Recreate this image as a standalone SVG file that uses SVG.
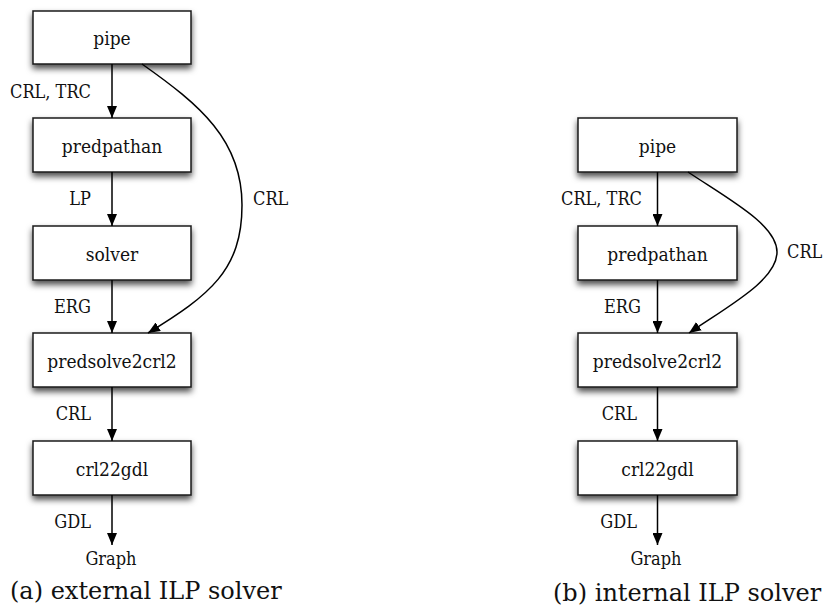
<svg xmlns="http://www.w3.org/2000/svg" width="829" height="614" viewBox="0 0 829 614">
  <defs>
    <filter id="shadow" x="-10%" y="-20%" width="120%" height="160%">
      <feDropShadow dx="0" dy="4" stdDeviation="3" flood-color="#000" flood-opacity="0.7"/>
    </filter>
    <marker id="arrow" viewBox="0 0 12 10" refX="12" refY="5" markerWidth="12" markerHeight="10" markerUnits="userSpaceOnUse" orient="auto">
      <path d="M0,0 L12,5 L0,10 Z" fill="#000"/>
    </marker>
  </defs>
  <style>
    .box { fill: #fff; stroke: #1a1a1a; stroke-width: 1.5; filter: url(#shadow); }
    .node-label { font-family: "DejaVu Serif Condensed", "DejaVu Serif", serif; font-stretch: condensed; font-size: 19px; fill: #111; text-anchor: middle; }
    .edge { fill: none; stroke: #000; stroke-width: 1.5; marker-end: url(#arrow); }
    .edge-label { font-family: "DejaVu Serif Condensed", "DejaVu Serif", serif; font-stretch: condensed; font-size: 18px; fill: #111; text-anchor: end; }
    .side-label { font-family: "DejaVu Serif Condensed", "DejaVu Serif", serif; font-stretch: condensed; font-size: 18px; fill: #111; text-anchor: start; }
    .caption { font-family: "DejaVu Serif", serif; font-size: 24px; fill: #111; }
  </style>
  <rect width="829" height="614" fill="#fff"/>

  <!-- (a) external ILP solver -->
  <g id="a-pipe"><rect class="box" x="33" y="11" width="158" height="53"/><text class="node-label" x="112" y="45">pipe</text></g>
  <g id="a-predpathan"><rect class="box" x="33" y="118" width="158" height="54"/><text class="node-label" x="112" y="152.5">predpathan</text></g>
  <g id="a-solver"><rect class="box" x="33" y="226" width="158" height="54"/><text class="node-label" x="112" y="260.5">solver</text></g>
  <g id="a-predsolve2crl2"><rect class="box" x="33" y="333" width="158" height="54"/><text class="node-label" x="112" y="367.5">predsolve2crl2</text></g>
  <g id="a-crl22gdl"><rect class="box" x="33" y="441" width="158" height="54"/><text class="node-label" x="112" y="475.5">crl22gdl</text></g>
  <g id="a-graph"><text class="edge-label" style="text-anchor: middle" x="111" y="565">Graph</text></g>

  <g id="a-connectors">
    <line class="edge" x1="112" y1="64" x2="112" y2="118"/>
    <line class="edge" x1="112" y1="172" x2="112" y2="226"/>
    <line class="edge" x1="112" y1="280" x2="112" y2="333"/>
    <line class="edge" x1="112" y1="387" x2="112" y2="441"/>
    <line class="edge" x1="112" y1="495" x2="112" y2="545"/>
    <path class="edge" d="M142,64 C200,105 242,140 242,205 C242,270 210,295 148,333"/>
    <text class="edge-label" x="91" y="98">CRL, TRC</text>
    <text class="edge-label" x="91" y="205">LP</text>
    <text class="side-label" x="253" y="205">CRL</text>
    <text class="edge-label" x="91" y="313">ERG</text>
    <text class="edge-label" x="91" y="420">CRL</text>
    <text class="edge-label" x="91" y="528">GDL</text>
  </g>
  <text class="caption" x="10" y="599">(a) external ILP solver</text>

  <!-- (b) internal ILP solver -->
  <g id="b-pipe"><rect class="box" x="578" y="118" width="159" height="54"/><text class="node-label" x="657.5" y="152.5">pipe</text></g>
  <g id="b-predpathan"><rect class="box" x="578" y="226" width="159" height="54"/><text class="node-label" x="657.5" y="260.5">predpathan</text></g>
  <g id="b-predsolve2crl2"><rect class="box" x="578" y="333" width="159" height="54"/><text class="node-label" x="657.5" y="367.5">predsolve2crl2</text></g>
  <g id="b-crl22gdl"><rect class="box" x="578" y="441" width="159" height="54"/><text class="node-label" x="657.5" y="475.5">crl22gdl</text></g>
  <g id="b-graph"><text class="edge-label" style="text-anchor: middle" x="656" y="565">Graph</text></g>

  <g id="b-connectors">
    <line class="edge" x1="657.5" y1="172" x2="657.5" y2="226"/>
    <line class="edge" x1="657.5" y1="280" x2="657.5" y2="333"/>
    <line class="edge" x1="657.5" y1="387" x2="657.5" y2="441"/>
    <line class="edge" x1="657.5" y1="495" x2="657.5" y2="545"/>
    <path class="edge" d="M688,172 C730,200 777,225 777,252 C777,280 730,305 689,333"/>
    <text class="edge-label" x="642" y="205">CRL, TRC</text>
    <text class="side-label" x="787" y="258">CRL</text>
    <text class="edge-label" x="641" y="313">ERG</text>
    <text class="edge-label" x="637" y="420">CRL</text>
    <text class="edge-label" x="637" y="528">GDL</text>
  </g>
  <text class="caption" x="553" y="601">(b) internal ILP solver</text>
</svg>
